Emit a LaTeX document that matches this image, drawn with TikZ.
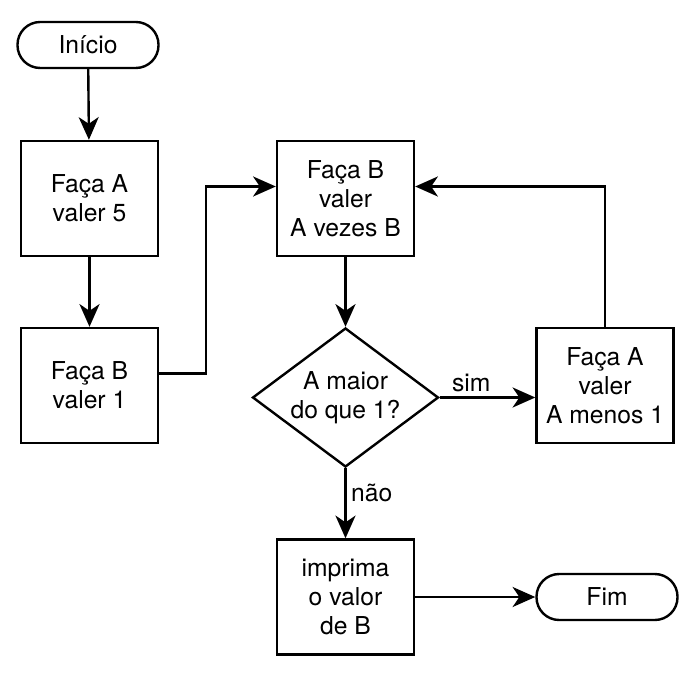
\documentclass[tikz,border=0pt]{standalone}
\usepackage{fontspec}
\setmainfont{TeX Gyre Heros}
\usetikzlibrary{arrows.meta,shapes.geometric}

\begin{document}
\begin{tikzpicture}[->,>={Stealth[length=17pt,width=15pt,inset=5pt]},x=0.75pt,y=-0.75pt,
  line width=1.8pt,
  every node/.style={font=\fontsize{18.5}{21.75}\selectfont},
  box/.style={rectangle,draw,fill=white,align=center,minimum width=102.75pt,minimum height=86.25pt,inner sep=0pt},
  term/.style={rectangle,draw,fill=white,rounded corners=17pt,minimum width=105.75pt,minimum height=34.5pt},
  decision/.style={diamond,draw,fill=white,align=center,shape aspect=1.34,inner sep=0pt,minimum width=139.5pt,minimum height=104.25pt}]

  \useasboundingbox (0,0) rectangle (698,677);

  \node[term] (inicio) at (88,45) {Início};
  \node[box] (facaA) at (89.5,198.5) {Faça A\\valer 5};
  \node[box] (facaB) at (89.5,385.5) {Faça B\\valer 1};
  \node[box] (vezes) at (345.5,198.5) {Faça B\\valer\\A vezes B};
  \node[decision] (teste) at (345.5,397.5) {A maior\\do que 1?};
  \node[box] (menos) at (605,385.5) {Faça A\\valer\\A menos 1};
  \node[box] (imprima) at (345.5,597) {imprima\\o valor\\de B};
  \node[term] (fim) at (607,597) {Fim};

  \path
    (inicio) edge (facaA)
    (facaA) edge (facaB)
    (vezes) edge (teste)
    (teste.south) edge node[right,pos=0.35] {não} (imprima.north)
    (imprima) edge (fim);

  \draw (teste.east) -- node[above,pos=0.33] {sim} (teste.east -| menos.west);
  \draw ([yshift=9pt]facaB.east) -- ++(35pt,0) |- ([yshift=9pt]vezes.west);
  \draw (menos.north) |- ([yshift=9pt]vezes.east);
\end{tikzpicture}
\end{document}
